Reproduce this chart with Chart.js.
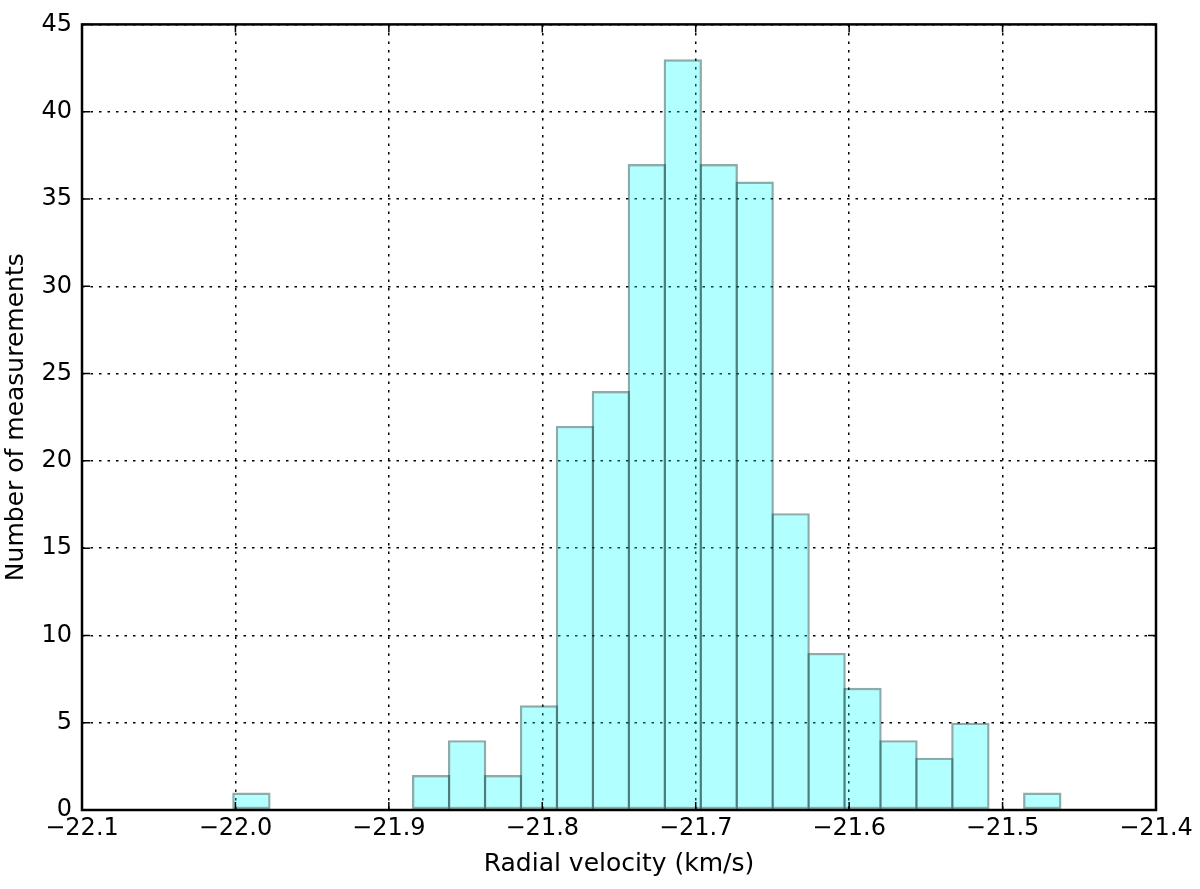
<!DOCTYPE html>
<html>
<head>
<meta charset="utf-8">
<script src="https://cdn.jsdelivr.net/npm/chart.js@4.4.0/dist/chart.umd.min.js"></script>
<style>
  html, body { margin: 0; padding: 0; background: #fff; }
</style>
</head>
<body>
<canvas id="histChart" width="1200" height="889"></canvas>
<script>
// histogram bins (centre, km/s) and counts
const binCenters = [
  -21.98959, -21.87244, -21.84901, -21.82558, -21.80215, -21.77872,
  -21.75529, -21.73186, -21.70843, -21.68500, -21.66157, -21.63814,
  -21.61471, -21.59128, -21.56785, -21.54442, -21.52099, -21.47413
];
const binCounts = [1, 2, 4, 2, 6, 22, 24, 37, 43, 37, 36, 17, 9, 7, 4, 3, 5, 1];

const xTickValues = [-22.1, -22.0, -21.9, -21.8, -21.7, -21.6, -21.5, -21.4];
const yTickValues = [0, 5, 10, 15, 20, 25, 30, 35, 40, 45];

const TICK_FONT = { family: "'DejaVu Sans', sans-serif", size: 24 };
const TITLE_FONT = { family: "'DejaVu Sans', sans-serif", size: 25 };
Chart.defaults.font.family = TICK_FONT.family;
Chart.defaults.color = "#000";

// box round the plot plus inward ticks on all four sides, like matplotlib classic
const framePlugin = {
  id: "frame",
  afterDraw(chart) {
    const { ctx, chartArea: a, scales } = chart;
    const tl = 8;
    ctx.save();
    ctx.strokeStyle = "#000";
    ctx.lineWidth = 1.5;
    ctx.beginPath();
    scales.x.ticks.forEach((t) => {
      const px = scales.x.getPixelForValue(t.value);
      ctx.moveTo(px, a.bottom);
      ctx.lineTo(px, a.bottom - tl);
      ctx.moveTo(px, a.top);
      ctx.lineTo(px, a.top + tl);
    });
    scales.y.ticks.forEach((t) => {
      const py = scales.y.getPixelForValue(t.value);
      ctx.moveTo(a.left, py);
      ctx.lineTo(a.left + tl, py);
      ctx.moveTo(a.right, py);
      ctx.lineTo(a.right - tl, py);
    });
    ctx.stroke();
    ctx.lineWidth = 2.5;
    ctx.strokeRect(a.left, a.top, a.right - a.left, a.bottom - a.top);
    ctx.restore();
  },
};

const gridOpts = { color: "#000", lineWidth: 1.5, drawTicks: false, offset: false };
const borderOpts = { display: false, dash: [2.5, 6] };

new Chart(document.getElementById("histChart"), {
  type: "bar",
  data: {
    datasets: [
      {
        label: "Radial velocity",
        data: binCenters.map((c, i) => ({ x: c, y: binCounts[i] })),
        backgroundColor: "rgba(0, 255, 255, 0.3)",
        borderColor: "rgba(0, 70, 70, 0.45)",
        borderWidth: 2.4,
        borderSkipped: false,
        inflateAmount: 0,
        categoryPercentage: 1,
        barPercentage: 1.067,
        grouped: false,
      },
    ],
  },
  options: {
    responsive: false,
    animation: false,
    devicePixelRatio: 1,
    layout: { padding: { left: 0, top: 22, right: 44, bottom: 0 } },
    plugins: {
      legend: { display: false },
      tooltip: { enabled: false },
    },
    scales: {
      x: {
        type: "linear",
        min: -22.1,
        max: -21.4,
        offset: false,
        z: 1,
        grid: gridOpts,
        border: borderOpts,
        afterBuildTicks: (s) => {
          s.ticks = xTickValues.map((v) => ({ value: v }));
        },
        afterFit: (s) => {
          s.height = 79;
        },
        ticks: {
          font: TICK_FONT,
          padding: 4,
          maxRotation: 0,
          autoSkip: false,
          callback: (v) => (v < 0 ? "\u2212" : "") + Math.abs(v).toFixed(1),
        },
        title: {
          display: true,
          text: "Radial velocity (km/s)",
          font: TITLE_FONT,
          padding: { top: 0, bottom: 10 },
        },
      },
      y: {
        min: 0,
        max: 45,
        z: 1,
        grid: gridOpts,
        border: borderOpts,
        afterBuildTicks: (s) => {
          s.ticks = yTickValues.map((v) => ({ value: v }));
        },
        afterFit: (s) => {
          s.width = 82;
        },
        ticks: { font: TICK_FONT, padding: 10 },
        title: {
          display: true,
          text: "Number of measurements",
          font: TITLE_FONT,
          padding: { top: 1, bottom: 0 },
        },
      },
    },
  },
  plugins: [framePlugin],
});
</script>
</body>
</html>
